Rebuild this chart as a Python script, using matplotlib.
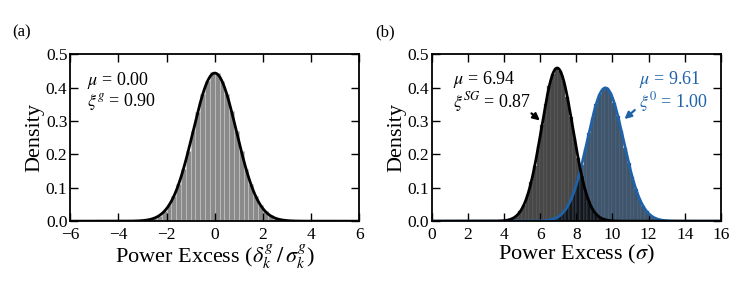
import numpy as np
import matplotlib
matplotlib.use("Agg")
import matplotlib.pyplot as plt

plt.rcParams["font.family"] = ["Liberation Serif", "DejaVu Serif"]
plt.rcParams["mathtext.fontset"] = "stix"

# ---- data ----
# (a) normalised power excess histogram (bin width 0.2)
a_centers = np.round(np.arange(-2.9, 3.0, 0.2), 2)
a_heights = [0.0026, 0.0050, 0.0095, 0.0168, 0.0292, 0.0480, 0.0742, 0.1105,
             0.1565, 0.2098, 0.2695, 0.3275, 0.3805, 0.4200, 0.4460,
             0.4430, 0.4185, 0.3795, 0.3285, 0.2685, 0.2105, 0.1555, 0.1112,
             0.0746, 0.0476, 0.0290, 0.0170, 0.0093, 0.0048, 0.0024]
a_mu, a_sig = 0.00, 0.90

# (b) SG histogram and sampled-0 histogram (bin width 0.2)
sg_centers = np.round(np.arange(4.1, 10.0, 0.2), 2)
sg_heights = [0.0022, 0.0046, 0.0090, 0.0166, 0.0293, 0.0490, 0.0776, 0.1165,
              0.1660, 0.2244, 0.2878, 0.3499, 0.4036, 0.4415, 0.4581,
              0.4509, 0.4210, 0.3728, 0.3131, 0.2495, 0.1885, 0.1351, 0.0919,
              0.0593, 0.0362, 0.0210, 0.0116, 0.0060, 0.0030, 0.0014]
sg_mu, sg_sig = 6.94, 0.87

z_centers = np.round(np.arange(6.1, 13.2, 0.2), 2)
z_heights = [0.0008, 0.0017, 0.0032, 0.0058, 0.0101, 0.0171, 0.0277, 0.0431,
             0.0644, 0.0925, 0.1276, 0.1691, 0.2154, 0.2637, 0.3100, 0.3503,
             0.3802, 0.3965, 0.3973, 0.3825, 0.3538, 0.3144, 0.2685, 0.2202,
             0.1736, 0.1315, 0.0957, 0.0669, 0.0449, 0.0290, 0.0180, 0.0107,
             0.0061, 0.0034, 0.0018, 0.0009]
z_mu, z_sig = 9.61, 1.00

BLUE = "#1f62a8"


def gauss(x, mu, sig):
    return np.exp(-0.5 * ((x - mu) / sig) ** 2) / (sig * np.sqrt(2 * np.pi))


def style_axes(ax):
    ax.tick_params(direction="in", top=True, right=True, length=6,
                   width=1.0, labelsize=12.5, pad=2)
    ax.tick_params(axis="x", pad=4)
    for s in ax.spines.values():
        s.set_linewidth(1.3)
    ax.set_ylim(0, 0.5)
    ax.set_yticks([0.0, 0.1, 0.2, 0.3, 0.4, 0.5])
    ax.set_ylabel("Density", fontsize=16, labelpad=1)


fig = plt.figure(figsize=(7.47, 2.91), dpi=100)
ax1 = fig.add_axes([0.094, 0.240, 0.387, 0.574])
ax2 = fig.add_axes([0.578, 0.240, 0.387, 0.574])

# ---- panel (a) ----
ax1.bar(a_centers, a_heights, width=0.2, color="#8a8a8a",
        edgecolor="#c8c8c8", linewidth=0.4)
xa = np.linspace(-6, 6, 600)
ax1.plot(xa, gauss(xa, a_mu, a_sig), color="k", lw=2.0)
ax1.set_xlim(-6, 6)
ax1.set_xticks(range(-6, 7, 2))
style_axes(ax1)
ax1.set_xlabel(r"Power Excess ($\delta_k^g\,/\,\sigma_k^g$)", fontsize=16,
               labelpad=0)
ax1.text(-5.3, 0.422, r"$\mu$ = 0.00", fontsize=13, va="center")
ax1.text(-5.3, 0.358, r"$\xi^{g}$ = 0.90", fontsize=13, va="center")

# ---- panel (b) ----
ax2.bar(z_centers, z_heights, width=0.2, color="#0f2a46", alpha=0.8,
        edgecolor="#6a7f94", linewidth=0.3)
ax2.bar(sg_centers, sg_heights, width=0.2, color="k", alpha=0.72,
        edgecolor="#777777", linewidth=0.3)
xb = np.linspace(0, 16, 800)
ax2.plot(xb, gauss(xb, z_mu, z_sig), color=BLUE, lw=2.0)
ax2.plot(xb, gauss(xb, sg_mu, sg_sig), color="k", lw=2.0)
ax2.set_xlim(0, 16)
ax2.set_xticks(range(0, 17, 2))
style_axes(ax2)
ax2.set_xlabel(r"Power Excess ($\sigma$)", fontsize=16, labelpad=0)
ax2.text(1.15, 0.424, r"$\mu$ = 6.94", fontsize=13, va="center")
ax2.text(1.15, 0.356, r"$\xi^{SG}$ = 0.87", fontsize=13, va="center")
ax2.text(11.45, 0.424, r"$\mu$ = 9.61", fontsize=13, va="center", color=BLUE)
ax2.text(11.45, 0.356, r"$\xi^{0}$ = 1.00", fontsize=13, va="center",
         color=BLUE)
ax2.annotate("", xy=(6.1, 0.296), xytext=(5.4, 0.328),
             arrowprops=dict(arrowstyle="-|>", color="k", lw=1.6,
                             mutation_scale=10))
ax2.annotate("", xy=(10.55, 0.300), xytext=(11.35, 0.338),
             arrowprops=dict(arrowstyle="-|>", color=BLUE, lw=1.6,
                             mutation_scale=10))

fig.text(0.017, 0.89, "(a)", fontsize=12, va="center")
fig.text(0.503, 0.89, "(b)", fontsize=12, va="center")

fig.savefig("out.png", dpi=100)
